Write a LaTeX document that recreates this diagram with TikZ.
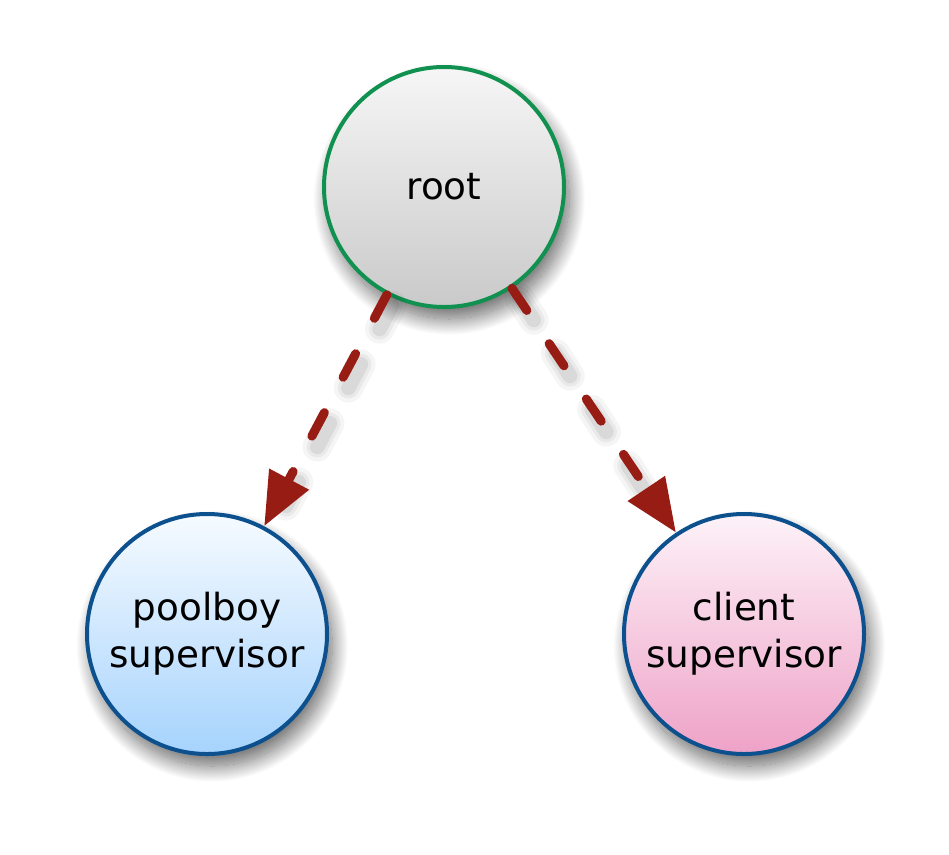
\documentclass[tikz,border=0pt]{standalone}
\usepackage{fontspec}
\setmainfont{DejaVu Sans}
\usetikzlibrary{arrows.meta,shadows.blur}
\definecolor{rootline}{RGB}{16,145,80}
\definecolor{supline}{RGB}{12,80,142}
\definecolor{linkred}{RGB}{150,28,20}
\tikzset{
  sup/.style={circle, draw, line width=3pt, minimum size=180pt, inner sep=0pt,
    align=center, font=\fontsize{28}{35}\selectfont,
    blur shadow={shadow xshift=4pt, shadow yshift=-9pt, shadow blur radius=12pt,
      shadow blur steps=25, shadow opacity=60}},
  link/.style={linkred, line width=6.75pt, line cap=round, dash pattern=on 20pt off 30pt,
    -{Triangle[length=40pt, width=32pt, line cap=butt]}}
}
\begin{document}
\begin{tikzpicture}[x=0.75pt, y=-0.75pt]
\useasboundingbox (0,0) rectangle (949,854);
\node [sup, rootline, top color=gray!7, bottom color=gray!42, text=black] (root) at (444,187) {root};
\node [sup, supline, top color={rgb,255:red,246;green,251;blue,255}, bottom color={rgb,255:red,166;green,211;blue,253}, text=black] (poolboy) at (207,634) {poolboy\\supervisor};
\node [sup, supline, top color={rgb,255:red,253;green,242;blue,248}, bottom color={rgb,255:red,238;green,162;blue,199}, text=black] (client) at (744,634) {client\\supervisor};
% soft shadows under the links
\foreach \w/\o in {22/0.04,16/0.05,11/0.07}
  \draw [black, opacity=\o, line width=\w pt, line cap=round, dash pattern=on 20pt off 30pt, shorten >=34pt]
    ([xshift=4pt,yshift=-8pt]root.-118) -- ([xshift=4pt,yshift=-8pt]poolboy.62)
    ([xshift=4pt,yshift=-8pt]root.-55) -- ([xshift=4pt,yshift=-8pt]client.125);
\draw [link] (root) -- (poolboy);
\draw [link] (root) -- (client);
\end{tikzpicture}
\end{document}
